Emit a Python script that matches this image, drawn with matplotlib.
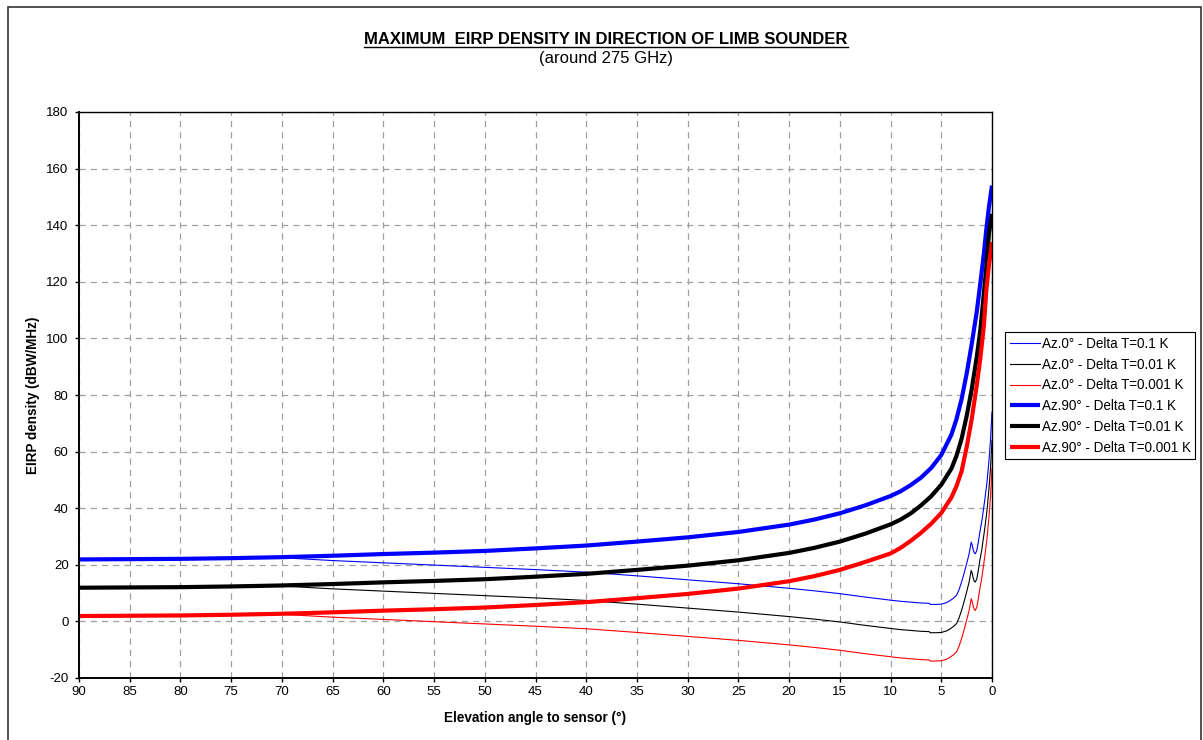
import matplotlib
matplotlib.use("Agg")
import matplotlib.pyplot as plt
from matplotlib.lines import Line2D
from matplotlib.patches import Rectangle

plt.rcParams['font.family'] = ['Liberation Sans', 'DejaVu Sans']
plt.rcParams['axes.unicode_minus'] = False

# elevation angles (deg) for the Az.0 curves
ang_az0 = [90, 85, 80, 75, 72, 70, 67.5, 65, 60, 55, 50, 45, 40, 35, 30, 25, 20,
           17.5, 15, 12.5, 10, 9, 8, 7, 6.2, 6.1, 5.5, 5, 4.5, 4.2, 3.8, 3.5,
           3.25, 3.0, 2.75, 2.5, 2.25, 2.05, 1.95, 1.85, 1.75, 1.65, 1.5, 1.35,
           1.2, 1.0, 0.72, 0.5, 0.3, 0.15, 0.0]
az0_01 = [21.9, 22.0, 22.1, 22.35, 22.55, 22.5, 22.0, 21.5, 20.7, 19.9, 19.1,
          18.3, 17.4, 16.1, 14.7, 13.3, 11.7, 10.8, 9.8, 8.6, 7.5, 7.1, 6.8, 6.5,
          6.4, 6.0, 6.0, 6.1, 6.6, 7.2, 8.2, 9.2, 11.2, 13.9, 17.0, 20.4, 24.0,
          28.0, 27.0, 25.3, 24.2, 23.9, 25.0, 28.0, 31.5, 35.5, 42.7, 49.0, 56.8,
          64.0, 74.0]
az0_001 = [12.0, 12.0, 12.1, 12.35, 12.55, 12.5, 12.0, 11.5, 10.7, 9.9, 9.1,
           8.3, 7.4, 6.1, 4.7, 3.3, 1.7, 0.8, -0.2, -1.4, -2.5, -2.9, -3.2, -3.5,
           -3.6, -4.0, -4.0, -3.9, -3.4, -2.8, -1.8, -0.8, 1.2, 3.9, 7.0, 10.4,
           14.0, 18.0, 17.0, 15.3, 14.2, 13.9, 15.0, 18.0, 21.5, 25.5, 32.7, 39.0,
           46.8, 54.0, 64.0]
az0_0001 = [1.9, 2.0, 2.1, 2.35, 2.55, 2.5, 2.0, 1.5, 0.7, -0.1, -0.9, -1.7,
            -2.6, -3.9, -5.3, -6.7, -8.3, -9.2, -10.2, -11.4, -12.5, -12.9, -13.2,
            -13.5, -13.6, -14.0, -14.0, -13.9, -13.4, -12.8, -11.8, -10.8, -8.8,
            -6.1, -3.0, 0.4, 4.0, 8.0, 7.0, 5.3, 4.2, 3.9, 5.0, 8.0, 11.5, 15.5,
            22.7, 29.0, 36.8, 44.0, 54.0]

# elevation angles (deg) for the Az.90 curves
ang_az90 = [90, 85, 80, 75, 70, 65, 60, 55, 50, 45, 40, 35, 30, 25, 20, 17.5, 15,
            12.5, 10, 9, 8, 7, 6, 5, 4, 3.5, 3, 2.5, 2, 1.5, 1.15, 0.8, 0.56,
            0.3, 0.0]
az90_01 = [21.9, 22.0, 22.1, 22.35, 22.7, 23.2, 23.8, 24.3, 24.9, 25.8, 26.8,
           28.2, 29.7, 31.6, 34.2, 36.0, 38.2, 41.0, 44.3, 46.0, 48.2, 50.8, 54.2,
           58.8, 66.0, 71.5, 78.5, 87.5, 98.0, 109.5, 119.5, 130.0, 138.5, 146.5,
           154.0]
az90_001 = [11.9, 12.0, 12.1, 12.35, 12.7, 13.2, 13.8, 14.3, 14.9, 15.8, 16.8,
            18.2, 19.7, 21.6, 24.2, 26.0, 28.2, 31.0, 34.3, 36.0, 38.2, 41.0, 44.2,
            48.3, 54.0, 58.5, 64.5, 72.5, 82.0, 93.5, 103.0, 116.0, 125.0, 137.0,
            144.0]
az90_0001 = [1.9, 2.0, 2.1, 2.35, 2.7, 3.2, 3.8, 4.3, 4.9, 5.8, 6.8, 8.2, 9.7,
             11.6, 14.2, 16.0, 18.2, 21.0, 24.0, 26.0, 28.5, 31.3, 34.5, 38.3,
             43.8, 47.8, 53.0, 61.5, 71.5, 83.5, 93.0, 104.5, 117.0, 126.0, 134.0]

labels = ['Az.0° - Delta T=0.1 K', 'Az.0° - Delta T=0.01 K', 'Az.0° - Delta T=0.001 K',
          'Az.90° - Delta T=0.1 K', 'Az.90° - Delta T=0.01 K', 'Az.90° - Delta T=0.001 K']
colors = ['#0000FF', '#000000', '#FF0000']

W, H = 1203, 740
fig = plt.figure(figsize=(W / 100, H / 100), dpi=100)
ax = fig.add_axes([79 / W, 1 - 678 / H, (992 - 79) / W, (678 - 112) / H])

thin = [az0_01, az0_001, az0_0001]
thick = [az90_01, az90_001, az90_0001]
for i, ys in enumerate(thin):
    ax.plot(ang_az0, ys, color=colors[i], lw=0.8, label=labels[i])
for i, ys in enumerate(thick):
    ax.plot(ang_az90, ys, color=colors[i], lw=3.0, label=labels[i + 3],
            solid_capstyle='butt', solid_joinstyle='round')

ax.set_xlim(90, 0)
ax.set_ylim(-20, 180)
ax.set_xticks(range(90, -1, -5))
ax.set_yticks(range(-20, 181, 20))
ax.grid(True, color='#a0a0a0', linestyle=(0, (5, 4)), linewidth=0.9)
ax.set_axisbelow(True)
ax.tick_params(direction='out', length=3, width=1, labelsize=9.5, colors='black')
ax.tick_params(axis='y', pad=4.5)
ax.tick_params(axis='x', pad=2.5)
for s in ax.spines.values():
    s.set_linewidth(1.0)
    s.set_color('black')
ax.spines['left'].set_linewidth(1.4)
ax.spines['bottom'].set_linewidth(1.4)

# axis titles placed in figure pixels
fig.text(535 / W, 1 - 718 / H, 'Elevation angle to sensor (°)', ha='center',
         va='center', fontsize=9.75, fontweight='bold')
fig.text(33 / W, 1 - 395 / H, 'EIRP density (dBW/MHz)', ha='center', va='center',
         rotation=90, fontsize=9.75, fontweight='bold')

leg = fig.legend(loc='upper left', bbox_to_anchor=(1005 / W, 1 - 332 / H),
                 bbox_transform=fig.transFigure, fontsize=9.75, frameon=True,
                 fancybox=False, framealpha=1, edgecolor='black',
                 handlelength=2.2, handletextpad=0.15, labelspacing=0.5,
                 borderpad=0.35, borderaxespad=0)
leg.get_frame().set_linewidth(0.8)

title = fig.text(606 / W, 1 - 40 / H, 'MAXIMUM  EIRP DENSITY IN DIRECTION OF LIMB SOUNDER',
                 ha='center', va='center', fontsize=12, fontweight='bold')
fig.text(606 / W, 1 - 59 / H, '(around 275 GHz)', ha='center', va='center',
         fontsize=12)

# underline the title
fig.canvas.draw()
bb = title.get_window_extent(fig.canvas.get_renderer())
uy = bb.y0 + 1
fig.add_artist(Line2D([bb.x0 / W, bb.x1 / W], [uy / H, uy / H],
                      transform=fig.transFigure, color='black', lw=1.0))

# outer chart frame
fig.add_artist(Rectangle((8 / W, -0.05), (1201 - 8) / W, 1.05 - 7 / H,
                         transform=fig.transFigure, fill=False,
                         edgecolor='#333333', lw=1.2))

fig.savefig('out.png', dpi=100)
